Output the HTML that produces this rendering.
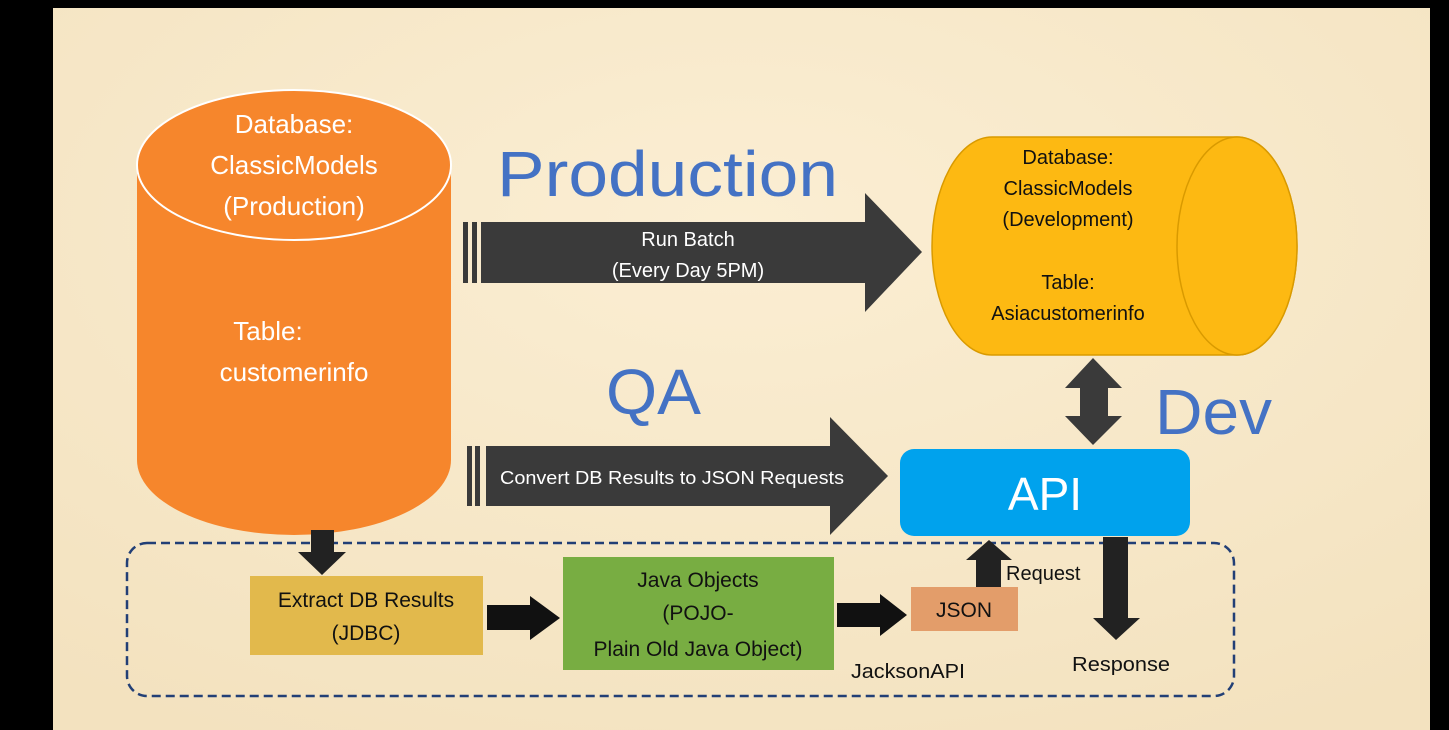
<!DOCTYPE html>
<html><head><style>
body{margin:0;width:1449px;height:730px;overflow:hidden;background:#000}
svg{display:block}
text{font-family:"Liberation Sans",sans-serif}
</style></head><body>
<svg width="1449" height="730" viewBox="0 0 1449 730">
<defs>
<radialGradient id="bg" cx="0.5" cy="0.3" r="0.8">
<stop offset="0" stop-color="#fbeed3"/><stop offset="1" stop-color="#f3e2bf"/>
</radialGradient>
</defs>
<rect x="53" y="8" width="1377" height="722" fill="url(#bg)"/>
<!-- orange cylinder -->
<path d="M137 165 L137 460 A157 75 0 0 0 451 460 L451 165 Z" fill="#f6862c"/>
<ellipse cx="294" cy="165" rx="157" ry="75" fill="#f6862c" stroke="#fff" stroke-width="2"/>
<g fill="#fff" font-size="26" text-anchor="middle">
<text x="294" y="133">Database:</text>
<text x="294" y="174">ClassicModels</text>
<text x="294" y="215">(Production)</text>
<text x="268" y="340">Table:</text>
<text x="294" y="381">customerinfo</text>
</g>
<!-- yellow cylinder -->
<path d="M992 137 L1237 137 A60 109 0 0 1 1237 355 L992 355 A60 109 0 0 1 992 137 Z" fill="#fdb912" stroke="#d99a00" stroke-width="1.5"/>
<ellipse cx="1237" cy="246" rx="60" ry="109" fill="#fdb912" stroke="#d99a00" stroke-width="1.5"/>
<g fill="#111" font-size="20" text-anchor="middle">
<text x="1068" y="164">Database:</text>
<text x="1068" y="195">ClassicModels</text>
<text x="1068" y="226">(Development)</text>
<text x="1068" y="289">Table:</text>
<text x="1068" y="320">Asiacustomerinfo</text>
</g>
<!-- headings -->
<g fill="#4472c4" font-size="64">
<text x="497" y="196" textLength="341" lengthAdjust="spacingAndGlyphs">Production</text>
<text x="606" y="414" textLength="95" lengthAdjust="spacingAndGlyphs">QA</text>
<text x="1155" y="434" textLength="117" lengthAdjust="spacingAndGlyphs">Dev</text>
</g>
<!-- arrow 1 -->
<g fill="#3a3a3a">
<rect x="463" y="222" width="5" height="61"/><rect x="472" y="222" width="5" height="61"/>
<path d="M481 222 H865 V193 L922 252 L865 312 V283 H481 Z"/>
<rect x="467" y="446" width="5" height="60"/><rect x="475" y="446" width="5" height="60"/>
<path d="M486 446 H830 V417 L888 476 L830 535 V506 H486 Z"/>
<path d="M1093 358 L1122 388 H1108 V416 H1122 L1093 445 L1065 416 H1080 V388 H1065 Z"/>
</g>
<g fill="#fff" font-size="20" text-anchor="middle">
<text x="688" y="246">Run Batch</text>
<text x="688" y="277">(Every Day 5PM)</text>
<text x="672" y="484" font-size="18" textLength="344" lengthAdjust="spacingAndGlyphs">Convert DB Results to JSON Requests</text>
</g>
<!-- API -->
<rect x="900" y="449" width="290" height="87" rx="14" fill="#00a2ed"/>
<text x="1045" y="510" fill="#fff" font-size="46" text-anchor="middle">API</text>
<!-- dashed box -->
<rect x="127" y="543" width="1107" height="153" rx="20" fill="none" stroke="#223f76" stroke-width="2.5" stroke-dasharray="9,5"/>
<!-- boxes -->
<rect x="250" y="576" width="233" height="79" fill="#e2b94c"/>
<g fill="#111" font-size="21" text-anchor="middle">
<text x="366" y="607">Extract DB Results</text>
<text x="366" y="640">(JDBC)</text>
</g>
<rect x="563" y="557" width="271" height="113" fill="#78ad42"/>
<g fill="#111" font-size="21" text-anchor="middle">
<text x="698" y="587">Java Objects</text>
<text x="698" y="620">(POJO-</text>
<text x="698" y="656">Plain Old Java Object)</text>
</g>
<rect x="911" y="587" width="107" height="44" fill="#e39d6a"/>
<text x="964" y="617" fill="#111" font-size="21" text-anchor="middle">JSON</text>
<!-- small arrows -->
<g fill="#111">
<path d="M311 530 H334 V552 H346 L322 575 L298 552 H311 Z" fill="#222"/>
<path d="M487 605 H530 V596 L560 618 L530 640 V630 H487 Z"/>
<path d="M837 603 H880 V594 L907 615 L880 636 V627 H837 Z"/>
<path d="M976 587 V560 H966 L989 540 L1012 560 H1001 V587 Z" fill="#222"/>
<path d="M1103 537 H1128 V618 H1140 L1116 640 L1093 618 H1103 Z" fill="#222"/>
</g>
<g fill="#111" font-size="20">
<text x="1006" y="580">Request</text>
<text x="1072" y="671" textLength="98" lengthAdjust="spacingAndGlyphs">Response</text>
<text x="851" y="678" textLength="114" lengthAdjust="spacingAndGlyphs">JacksonAPI</text>
</g>
</svg>
</body></html>
